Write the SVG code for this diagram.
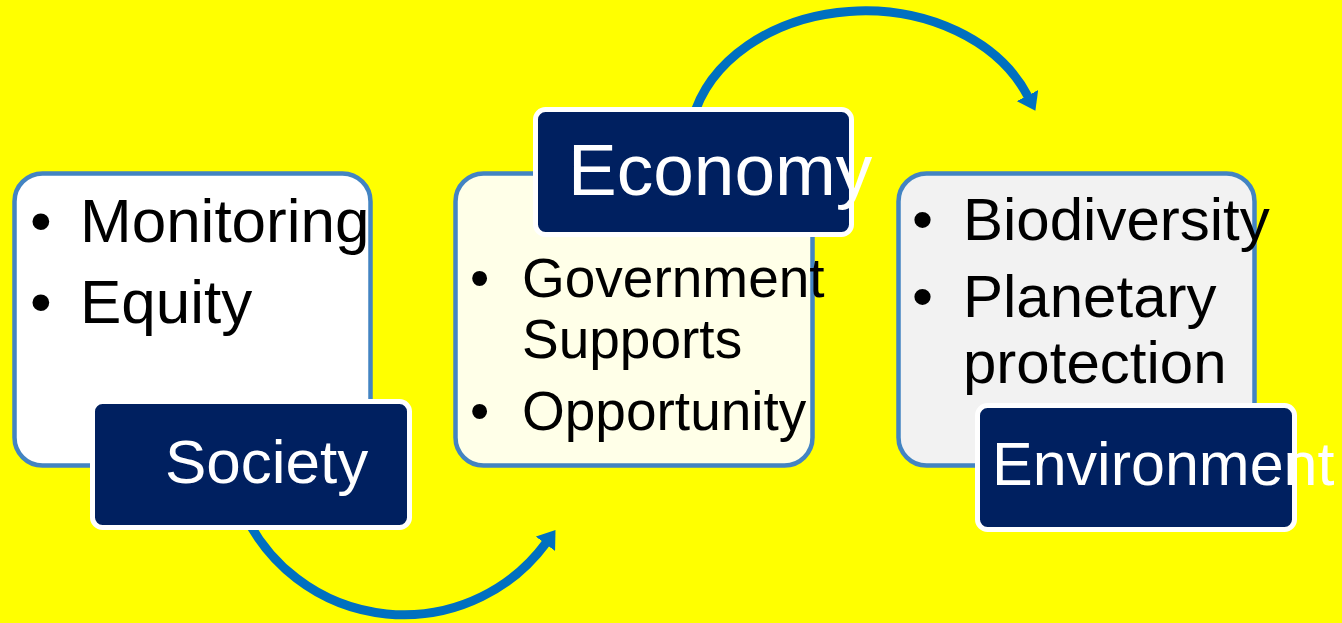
<svg xmlns="http://www.w3.org/2000/svg" width="1342" height="623" viewBox="0 0 1342 623">
  <style>
    .box { stroke: #4384C2; stroke-width: 4.5; }
    .label { fill: #002060; stroke: #FFFFFF; stroke-width: 5; }
    .body { font-family: "Liberation Sans", Arial, sans-serif; fill: #000000; }
    .title { font-family: "Liberation Sans", Arial, sans-serif; fill: #FFFFFF; }
    .arc { fill: none; stroke: #0070C0; stroke-width: 9; }
  </style>
  <defs>
    <marker id="arrowhead" markerUnits="userSpaceOnUse" markerWidth="17" markerHeight="24" viewBox="0 0 17 24" refX="1" refY="12" orient="auto">
      <path d="M0,0 L17,12 L0,24 z" fill="#0070C0"/>
    </marker>
  </defs>
  <rect x="0" y="0" width="1342" height="623" fill="#FFFF00"/>

  <g id="connectors">
    <path class="arc" d="M 244 513 A 176.5 176.5 0 0 0 546 543" marker-end="url(#arrowhead)"/>
    <path class="arc" d="M 692.5 120 A 176 137 0 0 1 1028 96.5" marker-end="url(#arrowhead)"/>
  </g>

  <g id="society">
    <rect class="box" x="14.5" y="173.5" width="356" height="292" rx="28" fill="#FFFFFF"/>
    <text class="body" font-size="62">
      <tspan x="30" y="242">•</tspan><tspan x="80" y="242">Monitoring</tspan>
      <tspan x="30" y="323">•</tspan><tspan x="80" y="323">Equity</tspan>
    </text>
    <rect class="label" x="92.5" y="401.5" width="317" height="126" rx="10"/>
    <text class="title" x="165" y="483" font-size="62">Society</text>
  </g>

  <g id="economy">
    <rect class="box" x="455.5" y="173.5" width="357" height="292" rx="28" fill="#FFFFE8"/>
    <text class="body" font-size="55">
      <tspan x="470" y="297">•</tspan><tspan x="522" y="297">Government</tspan>
      <tspan x="522" y="358">Supports</tspan>
      <tspan x="470" y="430">•</tspan><tspan x="522" y="430">Opportunity</tspan>
    </text>
    <rect class="label" x="535.5" y="109.5" width="316" height="125" rx="10"/>
    <text class="title" x="568" y="195" font-size="73">Economy</text>
  </g>

  <g id="environment">
    <rect class="box" x="898.5" y="173.5" width="356" height="292" rx="28" fill="#F2F2F2"/>
    <text class="body" font-size="60">
      <tspan x="912" y="240">•</tspan><tspan x="963" y="240">Biodiversity</tspan>
      <tspan x="912" y="317">•</tspan><tspan x="963" y="317">Planetary</tspan>
      <tspan x="963" y="383">protection</tspan>
    </text>
    <rect class="label" x="977.5" y="405.5" width="317" height="124" rx="10"/>
    <text class="title" x="992" y="485" font-size="61">Environment</text>
  </g>
</svg>
